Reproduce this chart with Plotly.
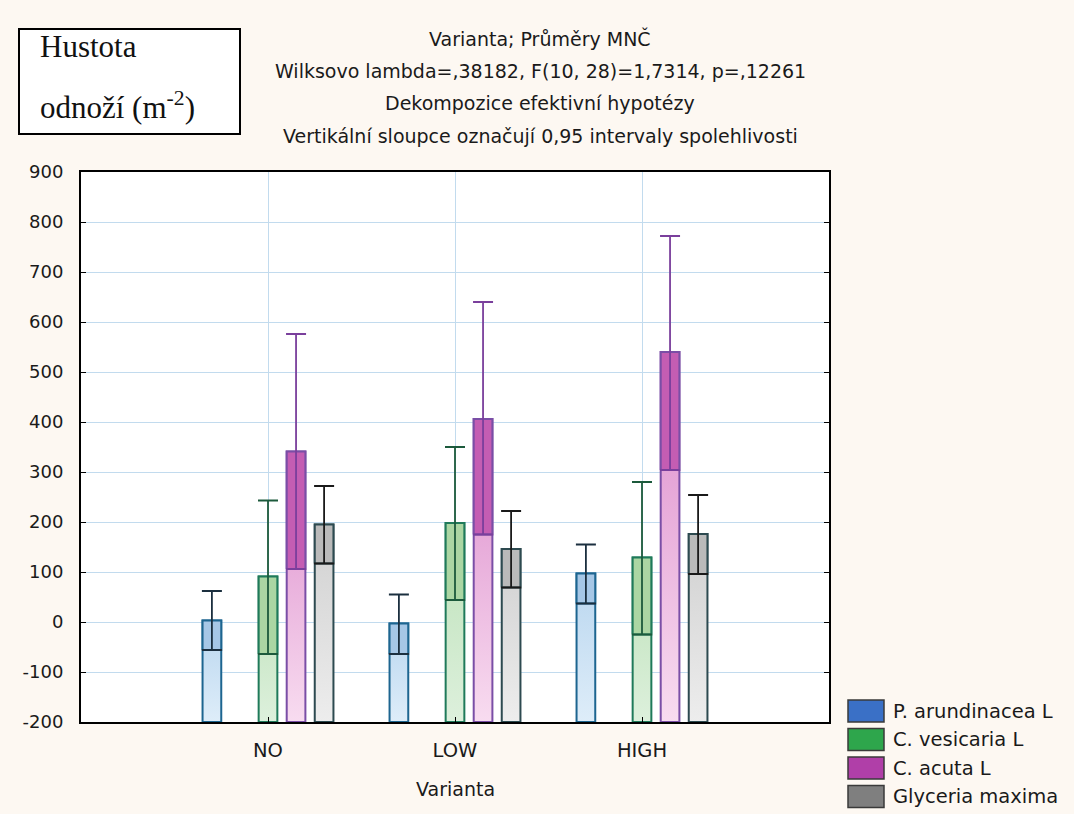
import plotly.graph_objects as go

# ---------------- data ----------------
categories = ["NO", "LOW", "HIGH"]
series = ["P. arundinacea L", "C. vesicaria L", "C. acuta L", "Glyceria maxima"]

mean_P = [3, -3, 97]
mean_Cv = [91, 198, 129]
mean_Ca = [341, 406, 540]
mean_G = [195, 146, 176]

lower_P = [-56, -64, 37]
lower_Cv = [-64, 44, -25]
lower_Ca = [106, 175, 304]
lower_G = [117, 69, 96]

upper_P = [62, 55, 155]
upper_Cv = [243, 350, 280]
upper_Ca = [576, 640, 772]
upper_G = [272, 222, 254]

y_ticks = list(range(-200, 901, 100))
y_tick_labels = [str(v) for v in y_ticks]
title_lines = [
    "Varianta; Průměry MNČ",
    "Wilksovo lambda=,38182, F(10, 28)=1,7314, p=,12261",
    "Dekompozice efektivní hypotézy",
    "Vertikální sloupce označují 0,95 intervaly spolehlivosti",
]

# ---------------- styles ----------------
means = [mean_P, mean_Cv, mean_Ca, mean_G]
lowers = [lower_P, lower_Cv, lower_Ca, lower_G]
uppers = [upper_P, upper_Cv, upper_Ca, upper_G]

offsets = [-0.30, 0.0, 0.15, 0.30]
bar_w = 0.10
grad = [("#deedf9", "#b9d6ef"), ("#ddf0dc", "#bce1b8"), ("#f8dcf0", "#dc8acb"), ("#ededed", "#d0d0d0")]
over = ["#a6c7e6", "#abd6a3", "#c45db3", "#bababa"]
edge = ["#1d6590", "#1f7a5a", "#7a4ea6", "#2d4a50"]
whisk = ["#1b2f3f", "#1c5a3c", "#7a3f9c", "#1a1a1a"]
legend_col = ["#3a70c6", "#2ea64c", "#b03fa8", "#7f7f7f"]

FONT = "DejaVu Sans"
bottom = y_ticks[0]

fig = go.Figure()

for s in range(len(series)):
    for c in range(len(categories)):
        xc = c + 1 + offsets[s]
        x0, x1 = xc - bar_w / 2, xc + bar_w / 2
        m, lo = means[s][c], lowers[s][c]
        fig.add_trace(go.Scatter(
            x=[x0, x1, x1, x0, x0], y=[bottom, bottom, m, m, bottom],
            fill="toself", mode="lines",
            line=dict(color=edge[s], width=2),
            fillgradient=dict(type="vertical", start=bottom, stop=m,
                              colorscale=[[0, grad[s][0]], [1, grad[s][1]]]),
            showlegend=False, hoverinfo="skip"))
        fig.add_trace(go.Scatter(
            x=[x0, x1, x1, x0, x0], y=[lo, lo, m, m, lo],
            fill="toself", fillcolor=over[s], mode="lines",
            line=dict(color=edge[s], width=2),
            showlegend=False, hoverinfo="skip"))
    xs = [c + 1 + offsets[s] for c in range(len(categories))]
    fig.add_trace(go.Scatter(
        x=xs, y=means[s], mode="markers",
        marker=dict(size=1, opacity=0),
        error_y=dict(type="data", symmetric=False,
                     array=[u - m for u, m in zip(uppers[s], means[s])],
                     arrayminus=[m - l for m, l in zip(means[s], lowers[s])],
                     width=10, thickness=1.8, color=whisk[s]),
        name=series[s], showlegend=False, hoverinfo="skip"))

# ---------------- layout helpers ----------------
L, R, T, B = 81, 829, 172, 722
def px(x):
    return (x - L) / (R - L)
def py(y):
    return (B - y) / (B - T)

annotations = []
for i, t in enumerate(title_lines):
    annotations.append(dict(text=t, x=px(540), y=py(38 + i * 32.7), xref="paper", yref="paper",
                            showarrow=False, xanchor="center", yanchor="middle",
                            font=dict(family=FONT, size=19, color="#1a1a1a")))
annotations.append(dict(text="Hustota", x=px(38), y=py(46), xref="paper", yref="paper",
                        showarrow=False, xanchor="left", yanchor="middle",
                        font=dict(family="Liberation Serif", size=31, color="#111")))
annotations.append(dict(text="odnoží (m<sup>-2</sup>)", x=px(38), y=py(106), xref="paper", yref="paper",
                        showarrow=False, xanchor="left", yanchor="middle",
                        font=dict(family="Liberation Serif", size=31, color="#111")))
annotations.append(dict(text="Varianta", x=px(455), y=py(789), xref="paper", yref="paper",
                        showarrow=False, xanchor="center", yanchor="middle",
                        font=dict(family=FONT, size=19, color="#1a1a1a")))

shapes = [dict(type="rect", xref="paper", yref="paper", x0=px(19), x1=px(240), y0=py(29), y1=py(134),
               line=dict(color="black", width=2), fillcolor="white", layer="below")]
for i, name in enumerate(series):
    yc = 711 + i * 28.5
    shapes.append(dict(type="rect", xref="paper", yref="paper", x0=px(848), x1=px(884),
                       y0=py(yc - 11), y1=py(yc + 11),
                       line=dict(color="#3a3a3a", width=1.5), fillcolor=legend_col[i]))
    annotations.append(dict(text=name, x=px(891), y=py(yc), xref="paper", yref="paper",
                            showarrow=False, xanchor="left", yanchor="middle",
                            font=dict(family=FONT, size=19.5, color="#1a1a1a")))

fig.update_layout(
    width=1074, height=814,
    margin=dict(l=L, r=1074 - R, t=T, b=814 - B),
    paper_bgcolor="#fdf8f2", plot_bgcolor="white",
    showlegend=False,
    annotations=annotations, shapes=shapes,
    font=dict(family=FONT, size=18, color="#1a1a1a"),
)
fig.update_xaxes(range=[0, 4], tickvals=[1, 2, 3], ticktext=categories,
                 showgrid=True, gridcolor="#c2dbee", gridwidth=1,
                 showline=True, linecolor="black", linewidth=2, mirror=True,
                 ticks="inside", ticklen=5, tickcolor="black",
                 tickfont=dict(family=FONT, size=19.5), ticklabelstandoff=10,
                 zeroline=False)
fig.update_yaxes(range=[-200, 900], tickvals=y_ticks, ticktext=y_tick_labels,
                 showgrid=True, gridcolor="#c2dbee", gridwidth=1,
                 showline=True, linecolor="black", linewidth=2, mirror="ticks",
                 ticks="inside", ticklen=5, tickcolor="black",
                 tickfont=dict(family=FONT, size=18), ticklabelstandoff=12,
                 zeroline=False)

fig.write_html("out.html")
